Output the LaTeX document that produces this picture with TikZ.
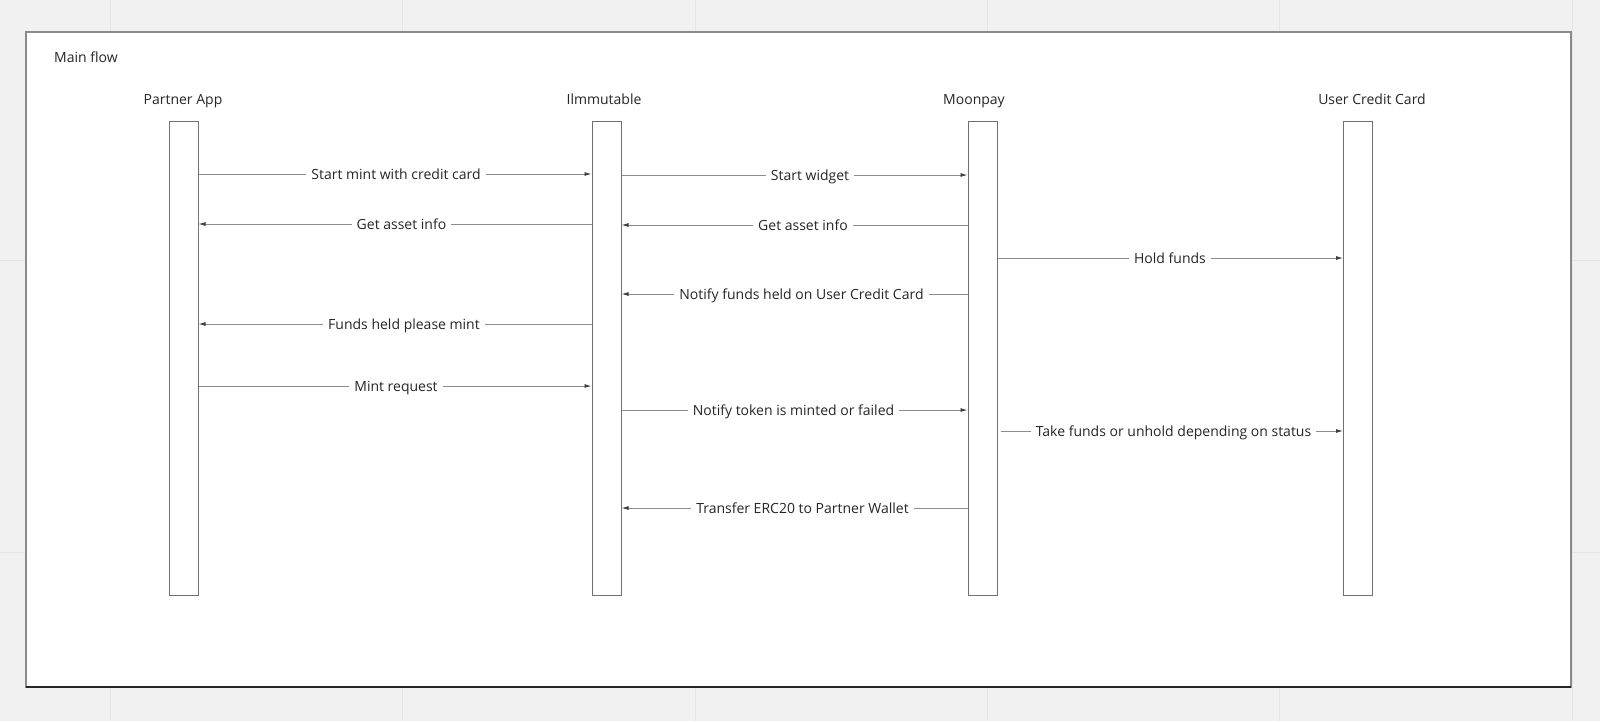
\documentclass[tikz,border=0pt]{standalone}
\usepackage{fontspec}
\setmainfont{Open Sans}
\usetikzlibrary{arrows.meta}
\definecolor{bg}{HTML}{F1F1F1}
\definecolor{gridc}{HTML}{E5E5E5}
\definecolor{framec}{HTML}{8A8A8A}
\definecolor{linec}{HTML}{8C8C8C}
\definecolor{boxc}{HTML}{707070}
\definecolor{txt}{HTML}{262626}
\begin{document}
\begin{tikzpicture}[x=1pt,y=-1pt,
  every node/.style={font=\fontsize{14}{16}\selectfont, text=txt},
  life/.style={draw=boxc, line width=1pt, fill=white, minimum width=29pt, minimum height=474pt, inner sep=0pt},
  msg/.style={draw=linec, line width=0.9pt, -{Latex[length=7pt,width=4pt,color=black!75]}},
  lbl/.style={fill=white, inner xsep=5pt, inner ysep=0pt, text height=10pt, text depth=0pt},
  head/.style={text=black!85, inner sep=0pt, text height=10pt, text depth=0pt}]

\fill[bg] (0,0) rectangle (1600,721);
\useasboundingbox (0,0) rectangle (1600,721);
\foreach \gx in {110,402,695,987,1279,1572} \draw[gridc, line width=1pt] (\gx,0) -- (\gx,721);
\foreach \gy in {260,552} \draw[gridc, line width=1pt] (0,\gy) -- (1600,\gy);

\draw[framec, line width=1.6pt, fill=white] (26,32) rectangle (1571,687);
\draw[black!85, line width=1.3pt] (26,687) -- (1571,687);

\node[head, anchor=west] (title) at (54,57) {Main flow};

\node[head] (hpa) at (183,99) {Partner App};
\node[head] (him) at (604,99) {Ilmmutable};
\node[head] (hmp) at (974,99) {Moonpay};
\node[head] (huc) at (1372,99) {User Credit Card};

\node[life] (pa) at (183.5,358) {};
\node[life] (im) at (606.5,358) {};
\node[life] (mp) at (982.5,358) {};
\node[life] (uc) at (1358,358) {};

% messages
\draw[msg] (pa.east |- 0,174) -- (im.west |- 0,174);
\node[lbl] (l1) at (396,174) {Start mint with credit card};

\draw[msg] (im.west |- 0,224) -- (pa.east |- 0,224);
\node[lbl] (l2) at (401.5,224) {Get asset info};

\draw[msg] (im.east |- 0,175) -- (mp.west |- 0,175);
\node[lbl] (l3) at (810,175) {Start widget};

\draw[msg] (mp.west |- 0,225) -- (im.east |- 0,225);
\node[lbl] (l4) at (803,225) {Get asset info};

\draw[msg] (mp.east |- 0,258) -- (uc.west |- 0,258);
\node[lbl] (l5) at (1170,258) {Hold funds};

\draw[msg] (mp.west |- 0,294) -- (im.east |- 0,294);
\node[lbl] (l6) at (801.5,294) {Notify funds held on User Credit Card};

\draw[msg] (im.west |- 0,324) -- (pa.east |- 0,324);
\node[lbl] (l7) at (404,324) {Funds held please mint};

\draw[msg] (pa.east |- 0,386) -- (im.west |- 0,386);
\node[lbl] (l8) at (396,386) {Mint request};

\draw[msg] (im.east |- 0,410) -- (mp.west |- 0,410);
\node[lbl] (l9) at (793.5,410) {Notify token is minted or failed};

\draw[msg] ([xshift=3pt]mp.east |- 0,431) -- (uc.west |- 0,431);
\node[lbl] (l10) at (1173.5,431) {Take funds or unhold depending on status};

\draw[msg] (mp.west |- 0,508) -- (im.east |- 0,508);
\node[lbl] (l11) at (802.5,508) {Transfer ERC20 to Partner Wallet};

\end{tikzpicture}
\end{document}
